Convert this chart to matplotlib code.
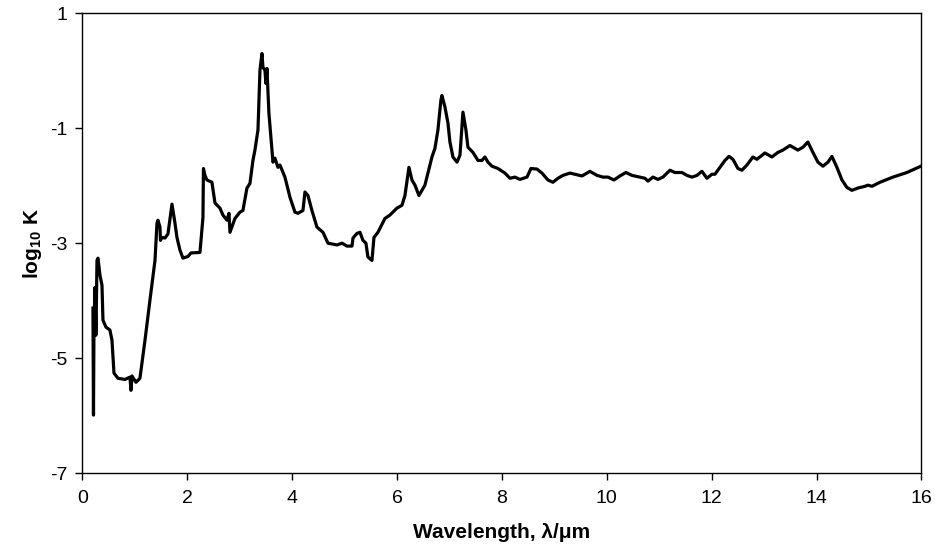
import numpy as np
import matplotlib
matplotlib.use("Agg")
import matplotlib.pyplot as plt

wavelength = [
    0.200, 0.210, 0.219, 0.238, 0.257, 0.277, 0.296, 0.334, 0.372, 0.391,
    0.448, 0.524, 0.563, 0.601, 0.677, 0.810, 0.906, 0.925, 0.944, 1.020,
    1.096, 1.192, 1.287, 1.383, 1.421, 1.440, 1.478, 1.487, 1.516, 1.573,
    1.630, 1.707, 1.726, 1.764, 1.802, 1.859, 1.916, 2.012, 2.069,
    2.241, 2.298, 2.307, 2.336, 2.374, 2.469, 2.527, 2.622, 2.679, 2.755,
    2.794, 2.813, 2.908, 3.003, 3.060, 3.137, 3.194, 3.251, 3.289, 3.347,
    3.385, 3.423, 3.442, 3.480, 3.499, 3.518, 3.556, 3.633, 3.671, 3.728,
    3.766, 3.861, 3.957, 4.052, 4.109, 4.205, 4.243, 4.300, 4.376, 4.472,
    4.586, 4.682, 4.853, 4.949, 5.044, 5.140, 5.159, 5.235, 5.292, 5.349,
    5.406, 5.444, 5.521, 5.559, 5.635,
    5.768, 5.864, 5.997, 6.093, 6.150, 6.226, 6.283, 6.341, 6.417, 6.531,
    6.589, 6.665, 6.722, 6.779, 6.836, 6.855, 6.913, 6.970, 7.008, 7.065,
    7.142, 7.199, 7.256, 7.313, 7.351, 7.447, 7.542, 7.618, 7.675, 7.733,
    7.809, 7.923, 8.057, 8.152, 8.248, 8.343, 8.477, 8.553, 8.667, 8.763,
    8.877,
    8.972, 9.068, 9.163, 9.297, 9.392, 9.526, 9.678, 9.812, 9.926, 10.021,
    10.136, 10.250, 10.364, 10.479, 10.631, 10.727, 10.784, 10.880, 10.975,
    11.070, 11.204, 11.299, 11.433, 11.528, 11.623, 11.719, 11.814, 11.909,
    12.005, 12.062, 12.157, 12.253, 12.329, 12.405,
    12.500, 12.576, 12.672, 12.786, 12.862, 13.015, 13.148, 13.263, 13.358,
    13.492, 13.644, 13.740, 13.835, 13.930, 14.026, 14.121, 14.217, 14.293,
    14.388, 14.484, 14.579, 14.674, 14.789, 14.922, 14.980, 15.056, 15.208,
    15.456, 15.723, 15.990,
]
log_k = [
    -4.13, -5.99, -4.51, -3.77, -4.60, -3.30, -3.26, -3.56, -3.73, -4.34,
    -4.46, -4.51, -4.69, -5.26, -5.35, -5.37, -5.33, -5.56, -5.31, -5.42,
    -5.35, -4.69, -3.99, -3.30, -2.65, -2.60, -2.72, -2.95, -2.90, -2.91,
    -2.84, -2.32, -2.43, -2.65, -2.90, -3.12, -3.26, -3.23, -3.17,
    -3.16, -2.55, -1.70, -1.82, -1.90, -1.94, -2.30, -2.39, -2.51, -2.60,
    -2.48, -2.81, -2.57, -2.46, -2.43, -2.04, -1.96, -1.56, -1.38, -1.03,
    0.01, 0.30, 0.06, 0.01, -0.22, 0.04, -0.74, -1.59, -1.52, -1.68,
    -1.64, -1.85, -2.20, -2.46, -2.48, -2.43, -2.11, -2.17, -2.43, -2.72,
    -2.81, -3.00, -3.03, -3.00, -3.05, -3.05, -2.91, -2.83, -2.81, -2.95,
    -3.00, -3.24, -3.30, -2.90, -2.81,
    -2.57, -2.51, -2.39, -2.34, -2.17, -1.68, -1.90, -1.99, -2.17, -1.99,
    -1.78, -1.50, -1.35, -1.03, -0.51, -0.43, -0.63, -0.91, -1.24, -1.50,
    -1.59, -1.47, -0.72, -1.03, -1.33, -1.42, -1.56, -1.56, -1.50, -1.59,
    -1.66, -1.70, -1.78, -1.87, -1.85, -1.89, -1.85, -1.70, -1.71, -1.78,
    -1.90,
    -1.94, -1.87, -1.82, -1.78, -1.80, -1.83, -1.75, -1.82, -1.85, -1.85,
    -1.90, -1.83, -1.77, -1.82, -1.85, -1.87, -1.92, -1.85, -1.89,
    -1.85, -1.73, -1.77, -1.77, -1.82, -1.85, -1.82, -1.75, -1.87,
    -1.80, -1.80, -1.68, -1.56, -1.49, -1.54,
    -1.70, -1.73, -1.64, -1.50, -1.54, -1.43, -1.50, -1.42, -1.38,
    -1.30, -1.38, -1.33, -1.24, -1.42, -1.59, -1.66, -1.59, -1.49,
    -1.68, -1.90, -2.03, -2.08, -2.04, -2.01, -1.99, -2.01, -1.94,
    -1.85, -1.77, -1.66,
]

x_ticks = [0, 2, 4, 6, 8, 10, 12, 14, 16]
y_ticks = [-7, -5, -3, -1, 1]

plt.rcParams["font.family"] = ["Liberation Sans", "DejaVu Sans"]
plt.rcParams["mathtext.fontset"] = "custom"
plt.rcParams["mathtext.rm"] = "Liberation Sans:bold"
plt.rcParams["mathtext.bf"] = "Liberation Sans:bold"

fig = plt.figure(figsize=(9.35, 5.54), dpi=100)
ax = fig.add_axes([0.0882, 0.146, 0.8973, 0.830])

ax.plot(wavelength, log_k, color="black", lw=2.3, solid_joinstyle="round")

ax.set_xlim(0, 16)
ax.set_ylim(-7, 1)
ax.set_xticks(x_ticks)
ax.set_yticks(y_ticks)
ax.set_yticklabels([str(t) for t in y_ticks])
ax.tick_params(direction="out", length=5, width=1, labelsize=14, colors="black")
ax.tick_params(axis="y", pad=6)
ax.tick_params(axis="x", pad=7)
for s in ax.spines.values():
    s.set_linewidth(1.0)

ax.set_xlabel("Wavelength, λ/μm", fontsize=15, fontweight="bold", labelpad=12)
ax.set_ylabel(r"log$_{10}$ K", fontsize=15, fontweight="bold", labelpad=4)

fig.savefig("out.png", dpi=100)
